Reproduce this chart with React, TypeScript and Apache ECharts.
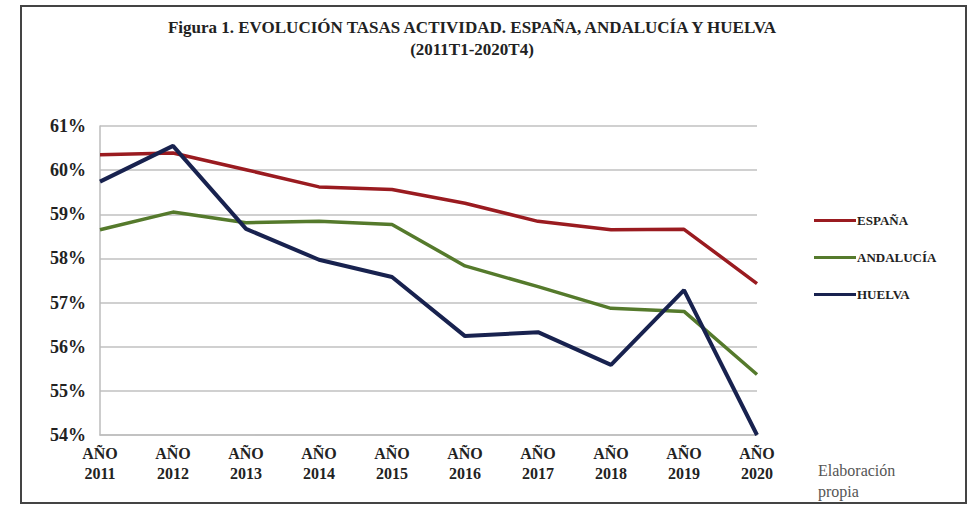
import React, { useEffect, useRef } from "react";
import * as echarts from "echarts";

const categories = ["AÑO\n2011", "AÑO\n2012", "AÑO\n2013", "AÑO\n2014", "AÑO\n2015", "AÑO\n2016", "AÑO\n2017", "AÑO\n2018", "AÑO\n2019", "AÑO\n2020"];
const espana = [60.35, 60.39, 60.01, 59.62, 59.56, 59.25, 58.84, 58.65, 58.66, 57.43];
const andalucia = [58.65, 59.05, 58.81, 58.84, 58.77, 57.83, 57.36, 56.87, 56.8, 55.37];
const huelva = [59.74, 60.55, 58.67, 57.97, 57.58, 56.24, 56.33, 55.59, 57.28, 54.0];
const seriesNames = ["ESPAÑA", "ANDALUCÍA", "HUELVA"];
const colors = ["#9a1b20", "#557a2c", "#18224f"];
const titleLines = "Figura 1. EVOLUCIÓN TASAS ACTIVIDAD. ESPAÑA, ANDALUCÍA Y HUELVA\n(2011T1-2020T4)";
const sourceNote = "Elaboración\npropia";

const FONT = "Liberation Serif";

export default function App() {
  const ref = useRef<HTMLDivElement>(null);
  useEffect(() => {
    const chart = echarts.init(ref.current!, null, { renderer: "svg" });
    const data = [espana, andalucia, huelva];
    chart.setOption({
      animation: false,
      backgroundColor: "#ffffff",
      title: {
        text: titleLines,
        left: 467,
        top: 11,
        textAlign: "center",
        textStyle: { fontFamily: FONT, fontWeight: "bold", fontSize: 17, color: "#222", lineHeight: 22 },
      },
      legend: {
        orient: "vertical",
        left: 809,
        top: 209,
        itemWidth: 42,
        itemHeight: 3,
        itemGap: 24,
        icon: "rect",
        data: seriesNames,
        textStyle: { fontFamily: FONT, fontWeight: "bold", fontSize: 13, color: "#222", padding: [0, 0, 0, -4] },
      },
      grid: { left: 100, right: 213, top: 126, bottom: 70, containLabel: false },
      xAxis: {
        type: "category",
        data: categories,
        boundaryGap: false,
        axisLine: { show: true, lineStyle: { color: "#bdbdbd", width: 1.5 } },
        axisTick: { show: false },
        axisLabel: {
          fontFamily: FONT,
          fontWeight: "bold",
          fontSize: 16,
          color: "#222",
          lineHeight: 20,
          margin: 8,
          interval: 0,
        },
      },
      yAxis: {
        type: "value",
        min: 54,
        max: 61,
        interval: 1,
        axisLine: { show: true, lineStyle: { color: "#bdbdbd", width: 1.5 } },
        axisTick: { show: false },
        splitLine: { show: true, lineStyle: { color: "#c0c0c0", width: 1.5 } },
        axisLabel: {
          formatter: (v: number) => v + "%",
          fontFamily: FONT,
          fontWeight: "bold",
          fontSize: 18,
          color: "#222",
          margin: 14,
        },
      },
      graphic: [
        {
          type: "rect",
          shape: { x: 21, y: 6, width: 945, height: 497 },
          style: { fill: "none", stroke: "#444", lineWidth: 2 },
          silent: true,
        },
        {
          type: "text",
          left: 818,
          top: 460,
          style: { text: sourceNote, fontFamily: FONT, fontSize: 16, fontWeight: "normal", fill: "#555", lineHeight: 21 },
        },
      ],
      series: seriesNames.map((name, i) => ({
        name,
        type: "line",
        data: data[i],
        symbol: "none",
        lineStyle: { color: colors[i], width: i === 2 ? 4 : 3.5 },
        itemStyle: { color: colors[i] },
      })),
    });
    return () => chart.dispose();
  }, []);
  return <div ref={ref} style={{ position: "fixed", left: 0, top: 0, width: 970, height: 505 }} />;
}
